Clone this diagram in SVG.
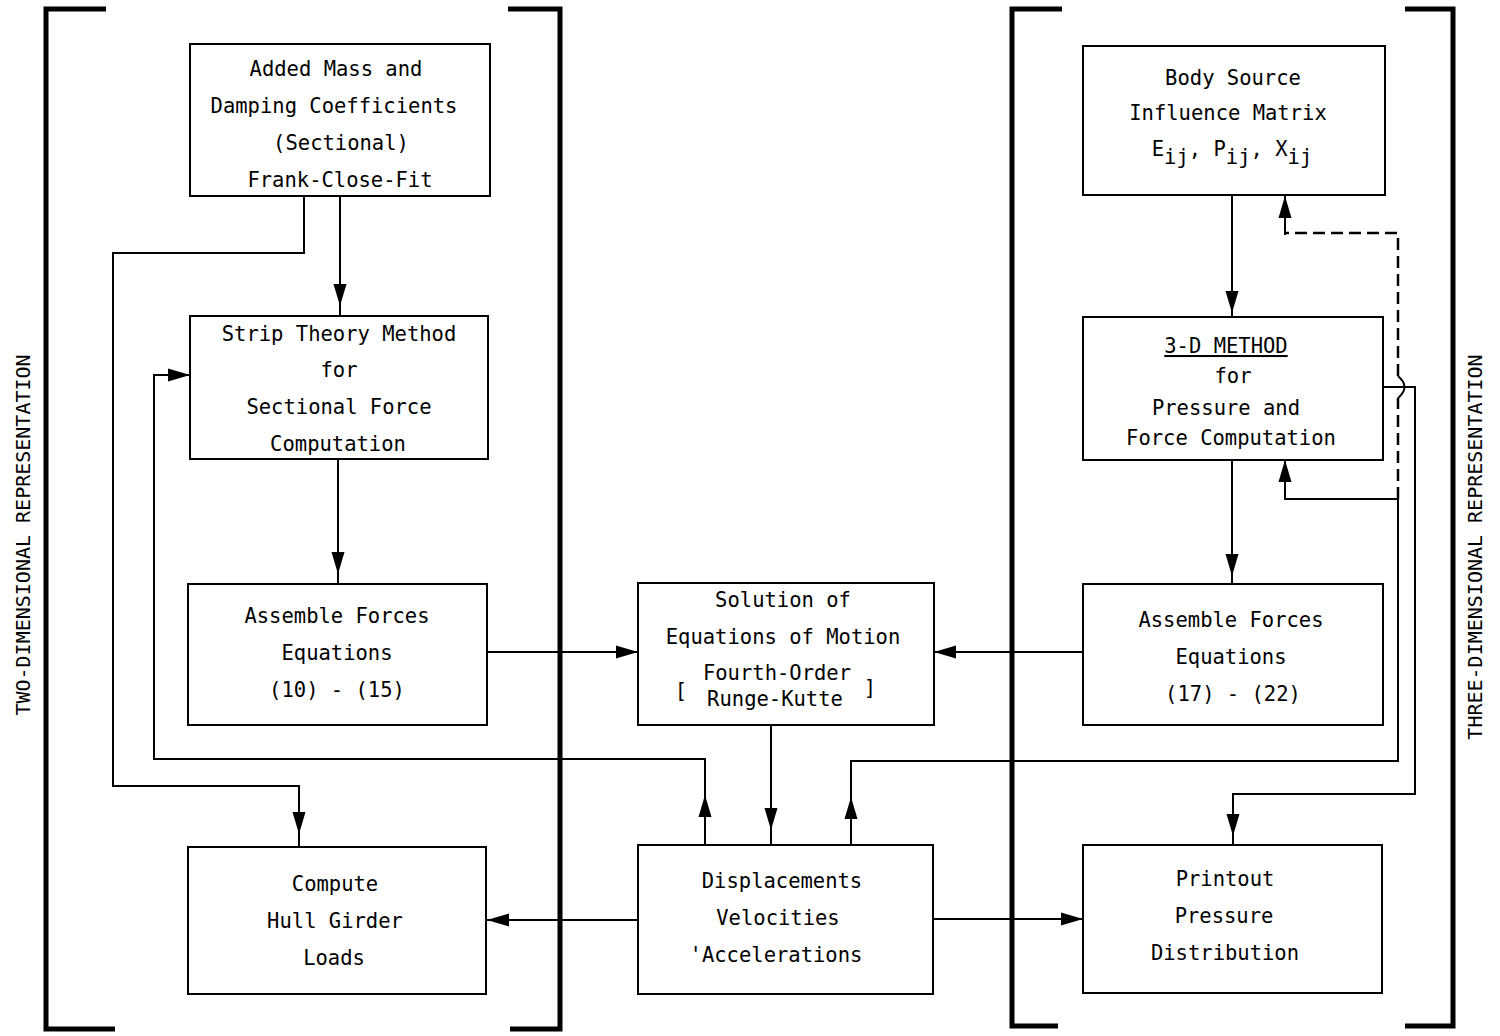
<svg xmlns="http://www.w3.org/2000/svg" xmlns:xlink="http://www.w3.org/1999/xlink" width="1500" height="1036" viewBox="0 0 1500 1036">
<style>
.box{fill:#fff;stroke:#000;stroke-width:2}
.t{font-family:"DejaVu Sans Mono","Liberation Mono",monospace;font-size:20.5px;fill:#000;text-anchor:middle}
.side{font-family:"DejaVu Sans Mono","Liberation Mono",monospace;font-size:20px;fill:#000;text-anchor:middle}
.ln{fill:none;stroke:#000;stroke-width:2}
.dash{fill:none;stroke:#000;stroke-width:2.5;stroke-dasharray:12 6}
.br{fill:none;stroke:#000;stroke-width:5}
</style>
<defs>
<path id="ah" d="M0,0 L-22,-6.5 L-22,6.5 Z" fill="#000"/>
</defs>
<rect width="1500" height="1036" fill="#fff"/>

<g id="brackets">
<path class="br" d="M106,9 H46 V1029 H115"/>
<path class="br" d="M508,9 H560 V1029 H510"/>
<path class="br" d="M1062,9 H1012 V1026 H1058"/>
<path class="br" d="M1405,9 H1453 V1026 H1405"/>
</g>

<g id="labels">
<text class="side" transform="translate(30,535) rotate(-90)">TWO-DIMENSIONAL REPRESENTATION</text>
<text class="side" transform="translate(1482,547) rotate(-90)">THREE-DIMENSIONAL REPRESENTATION</text>
</g>

<g id="connectors">
<!-- Added Mass -> Strip Theory -->
<path class="ln" d="M340,196 V316"/>
<use xlink:href="#ah" transform="translate(340,306) rotate(90)"/>
<!-- Added Mass -> Compute Hull -->
<path class="ln" d="M304,196 V253 H113 V786 H299 V847"/>
<use xlink:href="#ah" transform="translate(299,834) rotate(90)"/>
<!-- Strip -> Assemble L -->
<path class="ln" d="M338,459 V584"/>
<use xlink:href="#ah" transform="translate(338,574) rotate(90)"/>
<!-- Displacements -> Strip (loop) -->
<path class="ln" d="M705,845 V759 H154 V375 H190"/>
<use xlink:href="#ah" transform="translate(705,795) rotate(-90)"/>
<use xlink:href="#ah" transform="translate(190,375)"/>
<!-- Assemble L -> Solution -->
<path class="ln" d="M487,652 H638"/>
<use xlink:href="#ah" transform="translate(638,652)"/>
<!-- Assemble R -> Solution -->
<path class="ln" d="M1083,652 H934"/>
<use xlink:href="#ah" transform="translate(934,652) rotate(180)"/>
<!-- Solution -> Displacements -->
<path class="ln" d="M771,725 V845"/>
<use xlink:href="#ah" transform="translate(771,830) rotate(90)"/>
<!-- Displacements -> Compute Hull -->
<path class="ln" d="M638,920 H487"/>
<use xlink:href="#ah" transform="translate(487,920) rotate(180)"/>
<!-- Displacements -> Printout -->
<path class="ln" d="M933,919 H1083"/>
<use xlink:href="#ah" transform="translate(1083,919)"/>
<!-- Displacements -> 3-D (loop) -->
<path class="ln" d="M851,852 V761 H1398 V499 H1285 V460"/>
<use xlink:href="#ah" transform="translate(851,797) rotate(-90)"/>
<use xlink:href="#ah" transform="translate(1285,460) rotate(-90)"/>
<!-- dashed to Body Source -->
<path class="dash" d="M1398,499 V398"/>
<path class="ln" d="M1398,398 Q1411,387 1398,376"/>
<path class="dash" d="M1398,376 V233 H1285"/>
<path class="ln" d="M1285,235 V196"/>
<use xlink:href="#ah" transform="translate(1285,196) rotate(-90)"/>
<!-- Body Source -> 3-D -->
<path class="ln" d="M1232,195 V317"/>
<use xlink:href="#ah" transform="translate(1232,313) rotate(90)"/>
<!-- 3-D -> Assemble R -->
<path class="ln" d="M1232,460 V584"/>
<use xlink:href="#ah" transform="translate(1232,576) rotate(90)"/>
<!-- 3-D -> Printout -->
<path class="ln" d="M1383,387 H1415 V794 H1233 V845"/>
<use xlink:href="#ah" transform="translate(1233,836) rotate(90)"/>
</g>

<g id="added-mass">
<rect class="box" x="190" y="44" width="300" height="152"/>
<text class="t" x="336" y="76">Added Mass and</text>
<text class="t" x="334" y="113">Damping Coefficients</text>
<text class="t" x="341" y="150">(Sectional)</text>
<text class="t" x="340" y="187">Frank-Close-Fit</text>
</g>

<g id="strip-theory">
<rect class="box" x="190" y="316" width="298" height="143"/>
<text class="t" x="339" y="341">Strip Theory Method</text>
<text class="t" x="339" y="377">for</text>
<text class="t" x="339" y="414">Sectional Force</text>
<text class="t" x="338" y="451">Computation</text>
</g>

<g id="assemble-left">
<rect class="box" x="188" y="584" width="299" height="141"/>
<text class="t" x="337" y="623">Assemble Forces</text>
<text class="t" x="337" y="660">Equations</text>
<text class="t" x="337" y="697">(10) - (15)</text>
</g>

<g id="compute-hull">
<rect class="box" x="188" y="847" width="298" height="147"/>
<text class="t" x="335" y="891">Compute</text>
<text class="t" x="335" y="928">Hull Girder</text>
<text class="t" x="334" y="965">Loads</text>
</g>

<g id="solution">
<rect class="box" x="638" y="583" width="296" height="142"/>
<text class="t" x="783" y="607">Solution of</text>
<text class="t" x="783" y="644">Equations of Motion</text>
<text class="t" x="777" y="680">Fourth-Order</text>
<text class="t" x="775" y="706">Runge-Kutte</text>
<text class="t" x="681" y="698">[</text>
<text class="t" x="870" y="695">]</text>
</g>

<g id="displacements">
<rect class="box" x="638" y="845" width="295" height="149"/>
<text class="t" x="782" y="888">Displacements</text>
<text class="t" x="778" y="925">Velocities</text>
<text class="t" x="776" y="962">'Accelerations</text>
</g>

<g id="body-source">
<rect class="box" x="1083" y="46" width="302" height="149"/>
<text class="t" x="1233" y="85">Body Source</text>
<text class="t" x="1228" y="120">Influence Matrix</text>
<text class="t" x="1232" y="156">E<tspan dy="8">ij</tspan><tspan dy="-8">, P</tspan><tspan dy="8">ij</tspan><tspan dy="-8">, X</tspan><tspan dy="8">ij</tspan></text>
</g>

<g id="three-d">
<rect class="box" x="1083" y="317" width="300" height="143"/>
<text class="t" x="1226" y="353" text-decoration="underline">3-D METHOD</text>
<text class="t" x="1233" y="383">for</text>
<text class="t" x="1226" y="415">Pressure and</text>
<text class="t" x="1231" y="445">Force Computation</text>
</g>

<g id="assemble-right">
<rect class="box" x="1083" y="584" width="300" height="141"/>
<text class="t" x="1231" y="627">Assemble Forces</text>
<text class="t" x="1231" y="664">Equations</text>
<text class="t" x="1233" y="701">(17) - (22)</text>
</g>

<g id="printout">
<rect class="box" x="1083" y="845" width="299" height="148"/>
<text class="t" x="1225" y="886">Printout</text>
<text class="t" x="1224" y="923">Pressure</text>
<text class="t" x="1225" y="960">Distribution</text>
</g>
</svg>
